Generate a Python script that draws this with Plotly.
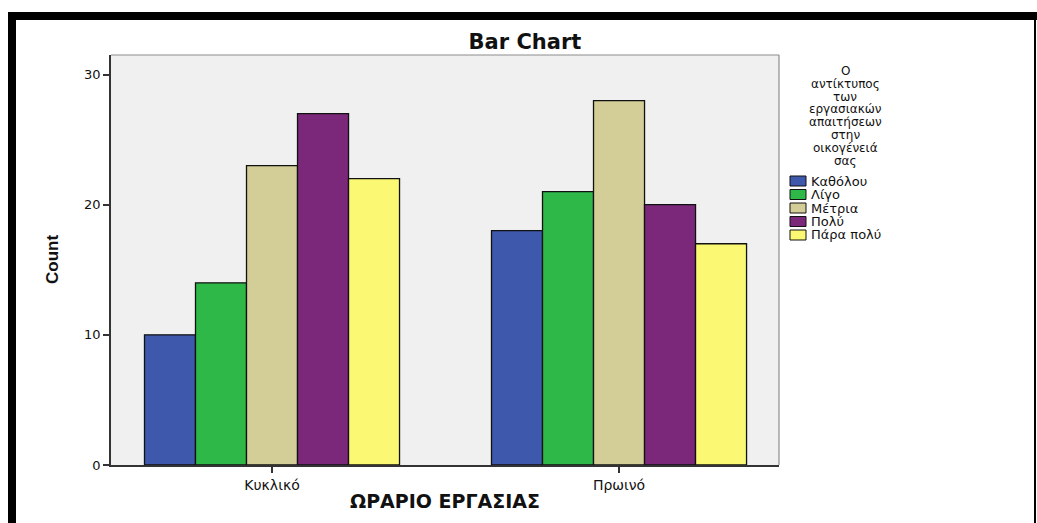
import plotly.graph_objects as go

# Work schedule categories and response counts per impact level
schedules = ["Κυκλικό", "Πρωινό"]
levels = ["Καθόλου", "Λίγο", "Μέτρια", "Πολύ", "Πάρα πολύ"]
counts = {
    "Καθόλου": [10, 18],
    "Λίγο": [14, 21],
    "Μέτρια": [23, 28],
    "Πολύ": [27, 20],
    "Πάρα πολύ": [22, 17],
}
colors = ["#3e58ac", "#2eb848", "#d3ce97", "#7b287b", "#fbf873"]
legend_title_lines = ["Ο", "αντίκτυπος", "των", "εργασιακών", "απαιτήσεων",
                      "στην", "οικογένειά", "σας"]
y_ticks = [0, 10, 20, 30]

W, H = 1037, 523
L, R, T, B = 111, 258, 55, 58
PW, PH = W - L - R, H - T - B


def xp(px):
    return (px - L) / PW


def yp(py):
    return (H - B - py) / PH


fig = go.Figure()
for name, col in zip(levels, colors):
    fig.add_trace(go.Bar(
        x=schedules, y=counts[name], name=name,
        marker=dict(color=col, line=dict(color="#111111", width=1.3)),
        showlegend=False,
    ))

shapes = []
annotations = []

# outer frame
shapes.append(dict(type="rect", xref="paper", yref="paper",
                   x0=xp(8), x1=xp(1037), y0=yp(20), y1=yp(12),
                   fillcolor="black", line=dict(width=0), layer="above"))
shapes.append(dict(type="rect", xref="paper", yref="paper",
                   x0=xp(8), x1=xp(16), y0=yp(530), y1=yp(12),
                   fillcolor="black", line=dict(width=0), layer="above"))
shapes.append(dict(type="rect", xref="paper", yref="paper",
                   x0=xp(1034), x1=xp(1036), y0=yp(530), y1=yp(12),
                   fillcolor="black", line=dict(width=0), layer="above"))

# top / right border of the plot area
shapes.append(dict(type="line", xref="paper", yref="paper",
                   x0=0, x1=1, y0=1, y1=1, line=dict(color="#8c8c8c", width=1.2)))
shapes.append(dict(type="line", xref="paper", yref="paper",
                   x0=1, x1=1, y0=0, y1=1, line=dict(color="#8c8c8c", width=1.2)))

# legend title
for i, line in enumerate(legend_title_lines):
    annotations.append(dict(xref="paper", yref="paper", x=xp(845), y=yp(71 + i * 12.8),
                            text=line, showarrow=False, xanchor="center", yanchor="middle",
                            font=dict(family="DejaVu Sans", size=12, color="#111111")))

# legend entries
for i, (name, col) in enumerate(zip(levels, colors)):
    cy = 181 + i * 13.5
    shapes.append(dict(type="rect", xref="paper", yref="paper",
                       x0=xp(790), x1=xp(806), y0=yp(cy + 5), y1=yp(cy - 5),
                       fillcolor=col, line=dict(color="#111111", width=1)))
    annotations.append(dict(xref="paper", yref="paper", x=xp(809), y=yp(cy),
                            text=name, showarrow=False, xanchor="left", yanchor="middle",
                            font=dict(family="DejaVu Sans", size=13, color="#111111")))

# axis titles
annotations.append(dict(xref="paper", yref="paper", x=xp(445), y=yp(501),
                        text="<b>ΩΡΑΡΙΟ ΕΡΓΑΣΙΑΣ</b>", showarrow=False,
                        xanchor="center", yanchor="middle",
                        font=dict(family="DejaVu Sans", size=19, color="#111111")))
annotations.append(dict(xref="paper", yref="paper", x=xp(52), y=yp(260),
                        text="<b>Count</b>", showarrow=False, textangle=-90,
                        xanchor="center", yanchor="middle",
                        font=dict(family="Liberation Sans", size=17, color="#111111")))

fig.update_layout(
    width=W, height=H,
    margin=dict(l=L, r=R, t=T, b=B, autoexpand=False),
    paper_bgcolor="white",
    plot_bgcolor="#f0f0f0",
    barmode="group",
    bargap=0.265,
    bargroupgap=0,
    title=dict(text="<b>Bar Chart</b>", x=525 / W, y=1 - 42 / H,
               xref="container", yref="container",
               xanchor="center", yanchor="middle",
               font=dict(family="DejaVu Sans", size=21, color="#111111")),
    shapes=shapes,
    annotations=annotations,
    xaxis=dict(
        range=[-0.464, 1.461],
        showline=True, linecolor="#333333", linewidth=1.5,
        ticks="outside", ticklen=6, tickcolor="#333333", tickwidth=1.5,
        tickfont=dict(family="DejaVu Sans", size=14, color="#111111"),
        showgrid=False, zeroline=False, fixedrange=True,
    ),
    yaxis=dict(
        range=[0, 31.5],
        tickvals=y_ticks,
        showline=True, linecolor="#333333", linewidth=1.5,
        ticks="outside", ticklen=6, tickcolor="#333333", tickwidth=1.5,
        tickfont=dict(family="DejaVu Sans", size=13, color="#111111"),
        showgrid=False, zeroline=False, fixedrange=True,
    ),
)

fig.write_html("out.html", config={"displayModeBar": False})
